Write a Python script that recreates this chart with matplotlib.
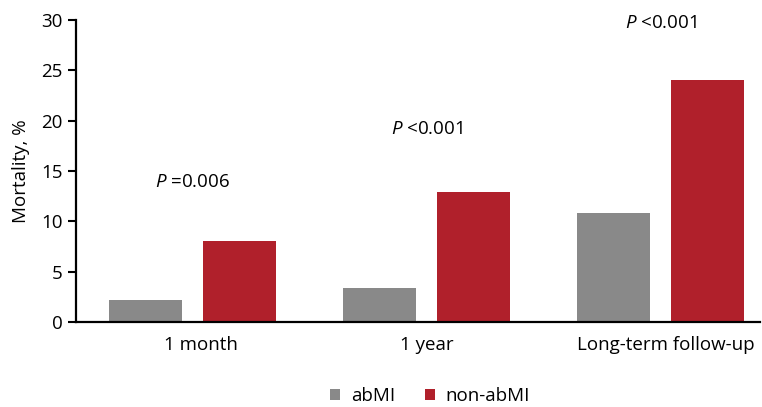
import matplotlib
matplotlib.use("Agg")
import matplotlib.pyplot as plt
import matplotlib.transforms as mtransforms
import numpy as np
from matplotlib import font_manager

categories = ["1 month", "1 year", "Long-term follow-up"]
abmi = [2.2, 3.4, 10.8]
non_abmi = [8.0, 12.9, 24.0]
p_labels = ["=0.006", "<0.001", "<0.001"]
series_names = ["abMI", "non-abMI"]

names = {f.name for f in font_manager.fontManager.ttflist}
fam = "Liberation Sans Narrow" if "Liberation Sans Narrow" in names else "Open Sans"
plt.rcParams["font.family"] = [fam, "DejaVu Sans"]
plt.rcParams["mathtext.fontset"] = "custom"
plt.rcParams["mathtext.it"] = fam + ":italic"
plt.rcParams["mathtext.rm"] = fam

fig = plt.figure(figsize=(7.62, 4.07), dpi=100)
ax = fig.add_axes([76/762, (407-322)/407, (760-76)/762, (322-20)/407])

x = np.arange(len(categories))
w = 0.312
off = 0.2
gray = "#898989"
red = "#B0202B"
ax.bar(x - off, abmi, w, color=gray, label=series_names[0])
ax.bar(x + off, non_abmi, w, color=red, label=series_names[1])

ax.set_ylim(0, 30)
ax.set_xlim(-0.498, 2.425)
ax.set_yticks(range(0, 31, 5))
ax.set_xticks(x)
ax.set_xticklabels(categories)
ax.tick_params(axis="x", length=0, labelsize=13.5, pad=10)
ax.tick_params(axis="y", length=6, width=1.5, labelsize=13.5, direction="out")
# small horizontal nudges of the category labels, as in the reference
for lbl, dx in zip(ax.get_xticklabels(), [8, 0, 5]):
    lbl.set_transform(lbl.get_transform() + mtransforms.ScaledTranslation(dx / 100, 0, fig.dpi_scale_trans))
for s in ["top", "right"]:
    ax.spines[s].set_visible(False)
for s in ["left", "bottom"]:
    ax.spines[s].set_linewidth(1.6)
ax.set_ylabel("Mortality, %", fontsize=13.5, labelpad=8)

p_y = [13.9, 19.2, 29.7]
for xi, lab, py in zip(x, p_labels, p_y):
    ax.text(xi, py, r"$\mathit{P}$ " + lab, ha="center", va="center", fontsize=13.5)

ax.legend(loc="center", bbox_to_anchor=(0.518, -0.245), ncol=2, frameon=False,
          fontsize=13.5, handlelength=0.5, handleheight=0.5, columnspacing=1.6,
          handletextpad=0.6, borderaxespad=0, borderpad=0.1)

fig.savefig("out.png", dpi=100)
